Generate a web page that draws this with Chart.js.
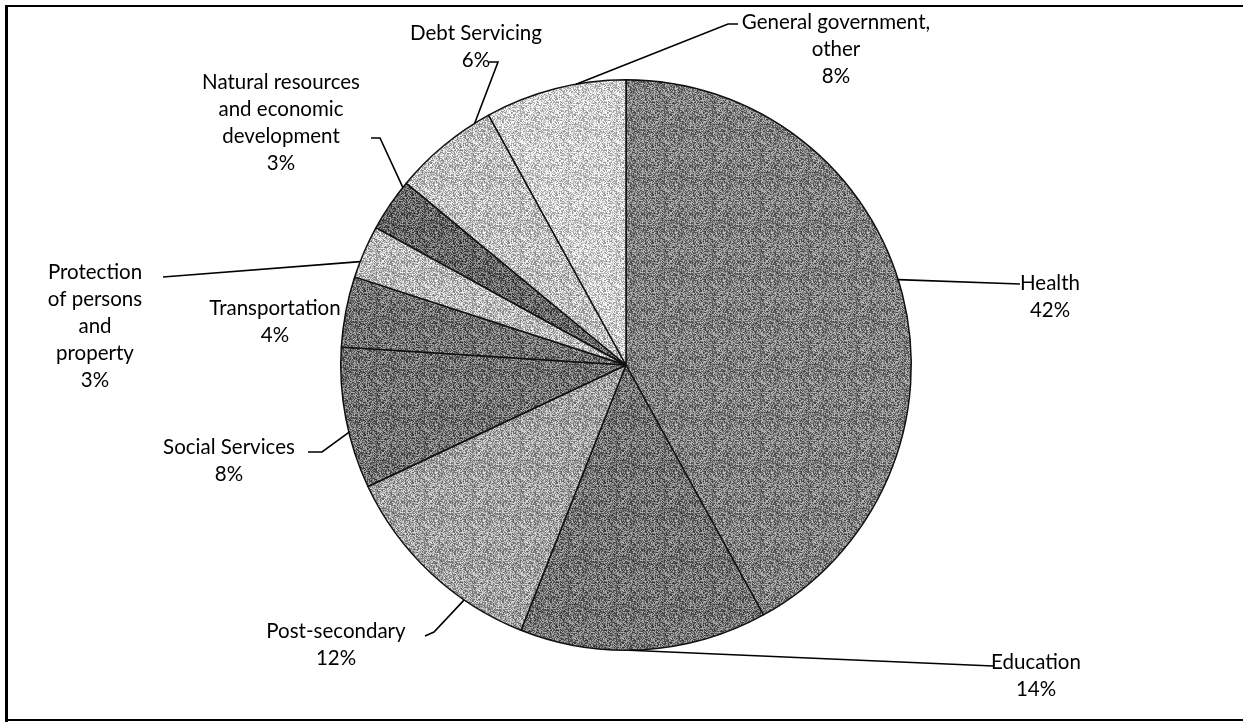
<!DOCTYPE html>
<html>
<head>
<meta charset="utf-8">
<script src="https://cdn.jsdelivr.net/npm/chart.js@4.4.1/dist/chart.umd.min.js"></script>
<style>
  html, body { margin: 0; padding: 0; background: #fff; }
  #wrap { width: 1243px; height: 723px; }
</style>
</head>
<body>
<div id="wrap"><canvas id="chart" width="1243" height="723"></canvas></div>
<script>
// Data (labelled percentages)
const categories = [
  "Health",
  "Education",
  "Post-secondary",
  "Social Services",
  "Transportation",
  "Protection of persons and property",
  "Natural resources and economic development",
  "Debt Servicing",
  "General government, other"
];
const shares = [42, 14, 12, 8, 4, 3, 3, 6, 8];
const labelLines = [
  ["Health"],
  ["Education"],
  ["Post-secondary"],
  ["Social Services"],
  ["Transportation"],
  ["Protection", "of persons", "and", "property"],
  ["Natural resources", "and economic", "development"],
  ["Debt Servicing"],
  ["General government,", "other"]
];

// grey level of each slice
const greys = [128, 116, 162, 114, 114, 186, 104, 192, 210];

// where the labels sit and how the leader lines run
// frac: where along the slice's arc the leader touches; lead: points toward the label
const labelLayout = [
  { x: 1050, y: 283, frac: 0.48, lead: [[1020, 284]] },
  { x: 1036, y: 662, frac: 0.56, lead: [[993, 666]] },
  { x: 336, y: 631, frac: 0.3, lead: [[434, 632], [425, 636]] },
  { x: 229, y: 447, frac: 0.4, lead: [[322, 452], [308, 452]] },
  { x: 275, y: 308, frac: 0.5, lead: null },
  { x: 95, y: 272, frac: 0.3, lead: [[163, 277]] },
  { x: 281, y: 82, frac: 0.9, lead: [[380, 138], [371, 138]] },
  { x: 476, y: 33, frac: 0.85, lead: [[498, 62], [489, 62]] },
  { x: 836, y: 22, frac: 0.65, lead: [[728, 24], [738, 24]] }
];

// scanned-looking grey texture
function greyPattern(g) {
  const c = document.createElement("canvas");
  c.width = 48; c.height = 48;
  const cx = c.getContext("2d");
  const img = cx.createImageData(48, 48);
  for (let j = 0; j < 48; j++) {
    for (let i = 0; i < 48; i++) {
      const h = ((i * 73856093) ^ (j * 19349663) ^ (i * j * 83492791)) >>> 0;
      const d = ((h % 7) - 3) * 20;
      const v = Math.max(0, Math.min(255, g + d));
      const k = (j * 48 + i) * 4;
      img.data[k] = v; img.data[k + 1] = v; img.data[k + 2] = v; img.data[k + 3] = 255;
    }
  }
  cx.putImageData(img, 0, 0);
  return cx.createPattern(c, "repeat");
}

const framePlugin = {
  id: "frame",
  beforeDraw(chart) {
    const ctx = chart.ctx;
    ctx.save();
    ctx.fillStyle = "#fff";
    ctx.fillRect(0, 0, chart.width, chart.height);
    ctx.fillStyle = "#000";
    ctx.fillRect(5, 5, 3, 717);
    ctx.fillRect(5, 5, 1238, 2);
    ctx.fillRect(5, 719, 1238, 2);
    ctx.restore();
  }
};

const labelPlugin = {
  id: "pieLabels",
  afterDraw(chart) {
    const ctx = chart.ctx;
    const meta = chart.getDatasetMeta(0);
    const total = shares.reduce((a, b) => a + b, 0);
    ctx.save();
    ctx.strokeStyle = "#000";
    ctx.lineWidth = 1.6;
    ctx.fillStyle = "#000";
    ctx.font = "20.5px Lato";
    ctx.textAlign = "center";
    ctx.textBaseline = "middle";
    meta.data.forEach((arc, i) => {
      const p = arc.getProps(["x", "y", "startAngle", "endAngle", "outerRadius"], true);
      const lay = labelLayout[i];
      const a = p.startAngle + lay.frac * (p.endAngle - p.startAngle);
      if (lay.lead) {
        ctx.beginPath();
        ctx.moveTo(p.x + Math.cos(a) * p.outerRadius, p.y + Math.sin(a) * p.outerRadius);
        lay.lead.forEach(pt => ctx.lineTo(pt[0], pt[1]));
        ctx.stroke();
      }
      const lines = labelLines[i].concat([Math.round(shares[i] / total * 100) + "%"]);
      lines.forEach((t, k) => ctx.fillText(t, lay.x, lay.y + k * 27));
    });
    ctx.restore();
  }
};

new Chart(document.getElementById("chart"), {
  type: "pie",
  data: {
    labels: categories,
    datasets: [{
      data: shares,
      backgroundColor: greys.map(greyPattern),
      borderColor: "#111",
      borderWidth: 1.5
    }]
  },
  options: {
    responsive: false,
    animation: false,
    layout: { padding: { left: 340, right: 331, top: 79, bottom: 72 } },
    plugins: {
      legend: { display: false },
      tooltip: { enabled: false }
    }
  },
  plugins: [framePlugin, labelPlugin]
});
</script>
</body>
</html>
